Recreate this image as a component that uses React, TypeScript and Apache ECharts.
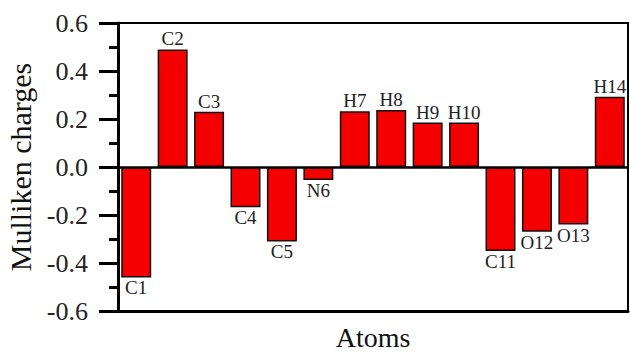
import React, { useEffect, useRef } from "react";
import * as echarts from "echarts";

const atoms = ["C1", "C2", "C3", "C4", "C5", "N6", "H7", "H8", "H9", "H10", "C11", "O12", "O13", "H14"];
const charges = [-0.46, 0.49, 0.23, -0.168, -0.31, -0.054, 0.232, 0.237, 0.185, 0.185, -0.35, -0.27, -0.24, 0.293];
const yTicks = { min: -0.6, max: 0.6, interval: 0.2 };

const FONT = "Liberation Serif";

export default function App() {
  const ref = useRef<HTMLDivElement>(null);
  useEffect(() => {
    if (!ref.current) return;
    const chart = echarts.init(ref.current, undefined, { renderer: "svg" });
    chart.setOption({
      animation: false,
      backgroundColor: "#ffffff",
      grid: {
        left: 118,
        right: 2,
        top: 23,
        bottom: 42,
        show: true,
        borderColor: "#000",
        borderWidth: 2,
        containLabel: false,
        outerBoundsMode: "none",
      },
      xAxis: {
        type: "category",
        data: atoms,
        boundaryGap: true,
        name: "Atoms",
        nameLocation: "middle",
        nameGap: 12,
        nameTextStyle: { fontFamily: FONT, fontSize: 28, color: "#111" },
        axisLine: { onZero: false, lineStyle: { color: "#000", width: 3 } },
        axisTick: { show: false },
        axisLabel: { show: false },
        splitLine: { show: false },
      },
      yAxis: {
        type: "value",
        min: yTicks.min,
        max: yTicks.max,
        interval: yTicks.interval,
        name: "Mulliken charges",
        nameLocation: "middle",
        nameRotate: 90,
        nameGap: 82,
        nameTextStyle: { fontFamily: FONT, fontSize: 30, color: "#111" },
        axisLine: { show: true, lineStyle: { color: "#000", width: 3 } },
        axisTick: { show: true, length: 19, lineStyle: { color: "#000", width: 3 } },
        minorTick: { show: true, splitNumber: 2, length: 9, lineStyle: { color: "#000", width: 3 } },
        axisLabel: {
          fontFamily: FONT,
          fontSize: 26,
          color: "#222",
          margin: 30,
          formatter: (v: number) => v.toFixed(1),
        },
        splitLine: { show: false },
      },
      series: [
        {
          type: "bar",
          barWidth: 30,
          data: charges.map((v) => ({
            value: v,
            label: { position: v >= 0 ? "top" : "bottom" },
          })),
          itemStyle: { color: "#f50000", borderColor: "#111", borderWidth: 1.5 },
          label: {
            show: true,
            distance: 1,
            fontFamily: FONT,
            fontSize: 19,
            color: "#222",
            formatter: (p: any) => atoms[p.dataIndex],
          },
          markLine: {
            silent: true,
            symbol: "none",
            label: { show: false },
            lineStyle: { color: "#000", width: 2.5, type: "solid" },
            data: [{ yAxis: 0 }],
          },
        },
      ],
    });
    return () => chart.dispose();
  }, []);
  return (
    <div
      ref={ref}
      style={{ position: "absolute", left: 0, top: 0, width: 630, height: 353, background: "#fff" }}
    />
  );
}
